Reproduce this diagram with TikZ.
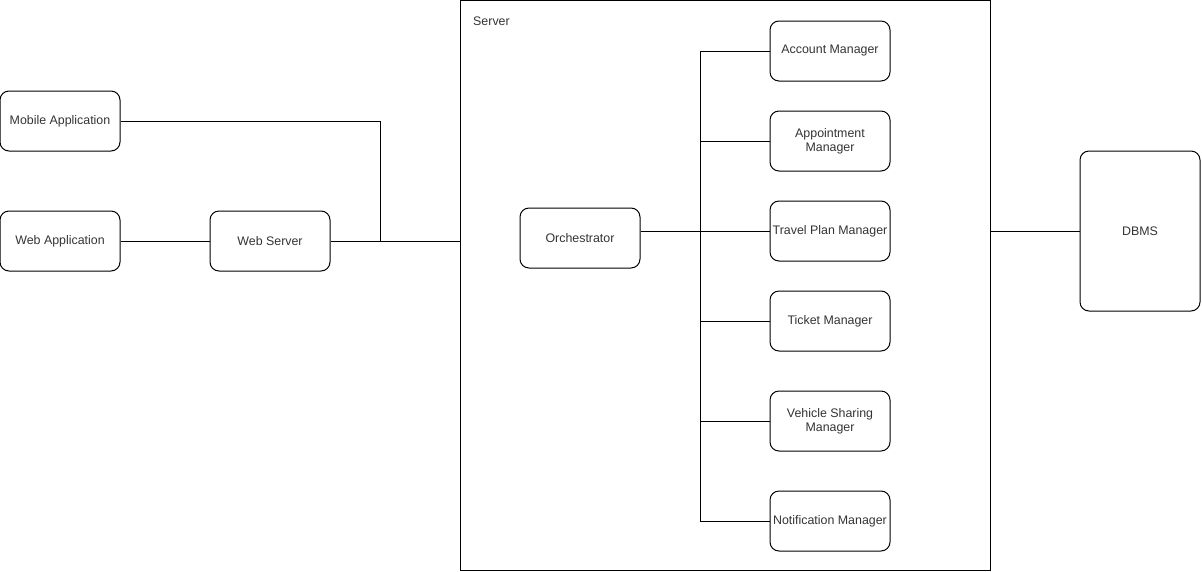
\documentclass[tikz,border=0pt]{standalone}
\usepackage{fontspec}
\setmainfont{Liberation Sans}
\begin{document}
\begin{tikzpicture}[x=1pt,y=-1pt,
  box/.style={draw=black,line width=1pt,rounded corners=9pt,minimum width=120pt,minimum height=60pt,
    inner sep=1pt,align=center,text=black!80,font=\fontsize{12.4}{14}\selectfont},
  conn/.style={draw=black,line width=1pt}]
\useasboundingbox (0,0) rectangle (1202,571);
\node[draw=black,line width=1pt,minimum width=530pt,minimum height=570pt,inner sep=0pt] (server) at (725,285) {};
\node[anchor=west,text=black!80,font=\fontsize{12.4}{14}\selectfont,inner sep=0pt] (srvlabel) at (473,21) {Server};
\node[box] (mob) at (60,121) {Mobile Application};
\node[box,minimum height=60pt] (webapp) at (60,241) {Web Application};
\node[box] (websrv) at (270,241) {Web Server};
\node[box] (orch) at (580,238) {Orchestrator};
\node[box] (acc) at (830,51) {Account Manager};
\node[box] (app) at (830,141) {Appointment\\Manager};
\node[box] (trav) at (830,231) {Travel Plan Manager};
\node[box] (tick) at (830,321) {Ticket Manager};
\node[box] (veh) at (830,421) {Vehicle Sharing\\Manager};
\node[box] (noti) at (830,521) {Notification Manager};
\node[box,minimum height=160pt] (dbms) at (1140,231) {DBMS};
\coordinate (bustop) at (700,51);
\coordinate (busbot) at (700,521);
\coordinate (join) at (380,241);
% connectors
\draw[conn] (mob.east) -| (join);
\draw[conn] (webapp) -- (websrv);
\draw[conn] (websrv.east) -- (websrv.east -| server.west);
\draw[conn] (bustop) -- (busbot);
\draw[conn] (orch.east |- trav.west) -- (trav.west);
\draw[conn] (bustop) -- (acc.west);
\draw[conn] (app.west -| bustop) -- (app.west);
\draw[conn] (tick.west -| bustop) -- (tick.west);
\draw[conn] (veh.west -| bustop) -- (veh.west);
\draw[conn] (busbot) -- (noti.west);
\draw[conn] (server.east |- dbms.west) -- (dbms.west);
\end{tikzpicture}
\end{document}
